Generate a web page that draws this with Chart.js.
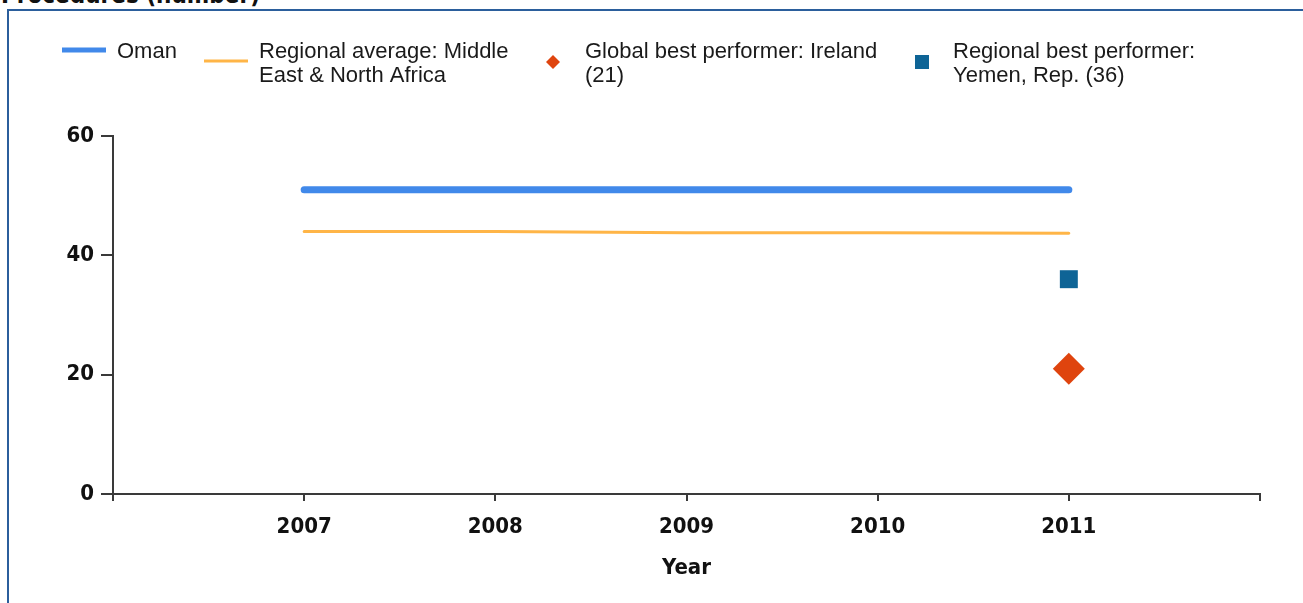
<!DOCTYPE html>
<html>
<head>
<meta charset="utf-8">
<title>Procedures (number)</title>
<script src="https://cdn.jsdelivr.net/npm/chart.js@4/dist/chart.umd.min.js"></script>
<style>
  html, body { margin: 0; padding: 0; background: #fff; overflow: hidden; }
  #wrap { position: relative; width: 1303px; height: 603px; }
  #title {
    position: absolute; left: 1px; top: -19px;
    font: bold 24px "DejaVu Sans Condensed", "DejaVu Sans", sans-serif;
    color: #111; white-space: nowrap;
  }
  #frame {
    position: absolute; left: 7px; top: 9px; width: 1310px; height: 620px;
    border: 2px solid #2b5e9c; box-sizing: border-box; background: #fff;
  }
  canvas { position: absolute; left: 0; top: 0; }
</style>
</head>
<body>
<div id="wrap">
  <div id="title">Procedures (number)</div>
  <div id="frame"></div>
  <canvas id="chart" width="1303" height="603"></canvas>
</div>
<script>
// Years on the x axis
const years = [2007, 2008, 2009, 2010, 2011];
// Y axis tick values
const yTicks = [0, 20, 40, 60];

// Series values
const omanValues = [51, 51, 51, 51, 51];
const regionalAverageValues = [44.0, 44.0, 43.8, 43.8, 43.7];
const globalBestYear = 2011;
const globalBestValue = 21;
const regionalBestYear = 2011;
const regionalBestValue = 36;

// Legend text, one entry per line
const omanLabel = ['Oman'];
const regionalAverageLabel = ['Regional average: Middle', 'East & North Africa'];
const globalBestLabel = ['Global best performer: Ireland', '(21)'];
const regionalBestLabel = ['Regional best performer:', 'Yemen, Rep. (36)'];

const axisColor = '#3a3a3a';
const tickFont = { family: '"DejaVu Sans Condensed", "DejaVu Sans", sans-serif', size: 22, weight: 'bold' };

const toPoints = (xs, ys) => xs.map((x, i) => ({ x: x, y: ys[i] }));

// Legend drawn on the canvas above the plot area
const legendPlugin = {
  id: 'topLegend',
  afterDraw(chart) {
    const ctx = chart.ctx;
    const ds = chart.data.datasets;
    ctx.save();
    ctx.font = '22px "Liberation Sans", Arial, sans-serif';
    ctx.textBaseline = 'alphabetic';
    const lineGap = 24;
    const items = [
      { ds: ds[0], kind: 'line', mx: 62, mw: 44, my: 50, tx: 117 },
      { ds: ds[1], kind: 'line', mx: 204, mw: 44, my: 61, tx: 259 },
      { ds: ds[2], kind: 'diamond', mx: 553, my: 62, tx: 585 },
      { ds: ds[3], kind: 'square', mx: 922, my: 62, tx: 953 }
    ];
    items.forEach(it => {
      if (it.kind === 'line') {
        ctx.strokeStyle = it.ds.borderColor;
        ctx.lineWidth = it.ds.borderWidth === 7 ? 5 : 3;
        ctx.lineCap = 'butt';
        ctx.beginPath();
        ctx.moveTo(it.mx, it.my);
        ctx.lineTo(it.mx + it.mw, it.my);
        ctx.stroke();
      } else if (it.kind === 'diamond') {
        ctx.fillStyle = it.ds.backgroundColor;
        ctx.beginPath();
        ctx.moveTo(it.mx, it.my - 7);
        ctx.lineTo(it.mx + 7, it.my);
        ctx.lineTo(it.mx, it.my + 7);
        ctx.lineTo(it.mx - 7, it.my);
        ctx.closePath();
        ctx.fill();
      } else {
        ctx.fillStyle = it.ds.backgroundColor;
        ctx.fillRect(it.mx - 7, it.my - 7, 14, 14);
      }
      ctx.fillStyle = '#1a1a1a';
      it.ds.label.forEach((line, i) => {
        ctx.fillText(line, it.tx, 58 + i * lineGap);
      });
    });
    ctx.restore();
  }
};

new Chart(document.getElementById('chart'), {
  type: 'scatter',
  data: {
    datasets: [
      {
        label: omanLabel,
        data: toPoints(years, omanValues),
        showLine: true,
        borderColor: '#4189ea',
        backgroundColor: '#4189ea',
        borderWidth: 7,
        borderCapStyle: 'round',
        pointRadius: 0,
        order: 2
      },
      {
        label: regionalAverageLabel,
        data: toPoints(years, regionalAverageValues),
        showLine: true,
        borderColor: '#ffb547',
        backgroundColor: '#ffb547',
        borderWidth: 3,
        borderCapStyle: 'round',
        pointRadius: 0,
        order: 1
      },
      {
        label: globalBestLabel,
        data: [{ x: globalBestYear, y: globalBestValue }],
        showLine: false,
        pointStyle: 'rectRot',
        pointRadius: 16,
        pointBorderWidth: 0,
        backgroundColor: '#df440e',
        borderColor: '#df440e'
      },
      {
        label: regionalBestLabel,
        data: [{ x: regionalBestYear, y: regionalBestValue }],
        showLine: false,
        pointStyle: 'rect',
        pointRadius: 12.7,
        pointBorderWidth: 0,
        backgroundColor: '#0e6496',
        borderColor: '#0e6496'
      }
    ]
  },
  options: {
    responsive: false,
    animation: false,
    events: [],
    layout: { padding: { top: 136, right: 43, left: 0, bottom: 0 } },
    plugins: {
      legend: { display: false },
      tooltip: { enabled: false },
      title: { display: false }
    },
    scales: {
      x: {
        type: 'linear',
        min: years[0] - 1,
        max: years[years.length - 1] + 1,
        afterBuildTicks(scale) {
          const t = [years[0] - 1, ...years, years[years.length - 1] + 1];
          scale.ticks = t.map(v => ({ value: v }));
        },
        afterFit(scale) { scale.height = 109; },
        border: { display: true, color: axisColor, width: 2 },
        grid: { display: true, drawOnChartArea: false, drawTicks: true, tickLength: 7, color: axisColor, lineWidth: 2 },
        ticks: {
          autoSkip: false,
          maxRotation: 0,
          padding: 13,
          color: '#111',
          font: tickFont,
          callback: v => (years.includes(v) ? String(v) : '')
        },
        title: {
          display: true,
          text: 'Year',
          color: '#111',
          font: tickFont,
          padding: { top: 10, bottom: 22 }
        }
      },
      y: {
        type: 'linear',
        min: yTicks[0],
        max: yTicks[yTicks.length - 1],
        afterBuildTicks(scale) {
          scale.ticks = yTicks.map(v => ({ value: v }));
        },
        afterFit(scale) { scale.width = 113; },
        border: { display: true, color: axisColor, width: 2 },
        grid: { display: true, drawOnChartArea: false, drawTicks: true, tickLength: 12, color: axisColor, lineWidth: 2 },
        ticks: {
          padding: 7,
          color: '#111',
          font: tickFont
        }
      }
    }
  },
  plugins: [legendPlugin]
});
</script>
</body>
</html>
